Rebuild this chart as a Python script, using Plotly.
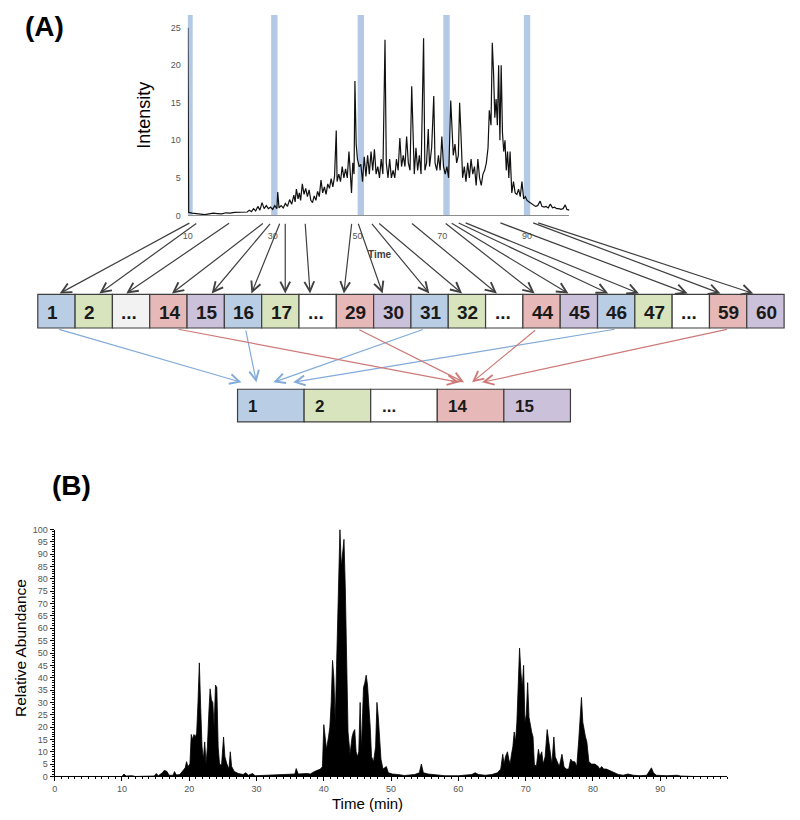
import plotly.graph_objects as go

W, H = 800, 820

# ---------------- Panel A chromatogram data ----------------
a_time = [10.0, 10.2, 11, 12, 13, 14, 15, 16, 17, 18, 19, 20, 21, 22, 23, 24, 24.5, 25, 25.5, 26, 26.5, 27, 27.5,
          28, 28.5, 29, 29.5, 30, 30.5, 31.0, 31.2, 31.5, 32, 32.5, 33, 33.5, 34, 34.5, 35, 35.3, 35.6, 36, 36.3,
          36.6, 37, 37.4, 37.8, 38.2, 38.6, 39, 39.4, 39.8, 40.2, 40.6, 41, 41.4, 41.8, 42.2, 42.6, 43, 43.4, 43.8,
          44.2, 44.6, 45.0, 45.2, 45.6, 46, 46.4, 46.8, 47.2, 47.6, 48.0, 48.3, 48.6, 48.9, 49.2, 49.4, 49.7, 50,
          50.4, 50.8, 51.2, 51.6, 52, 52.4, 52.8, 53.2, 53.6, 54, 54.4, 54.8, 55.2, 55.6, 56.0, 56.5, 56.8, 57.2,
          57.6, 58, 58.4, 58.8, 59.2, 59.6, 60.0, 60.4, 60.8, 61.2, 61.6, 62.0, 62.4, 62.8, 63.1, 63.4, 63.8, 64.2,
          64.6, 65.0, 65.6, 65.9, 66.3, 66.7, 67.0, 67.5, 68.0, 68.3, 68.7, 69.1, 69.5, 69.9, 70.3, 70.7, 71.1,
          71.5, 72.0, 72.3, 72.6, 73.0, 73.4, 73.8, 74.1, 74.4, 74.8, 75.2, 75.6, 76, 76.4, 76.8, 77.2, 77.6, 78,
          78.4, 78.8, 79.2, 79.6, 80.0, 80.4, 80.8, 81.1, 81.5, 81.8, 82.1, 82.4, 82.7, 83.0, 83.3, 83.6, 83.9,
          84.2, 84.5, 84.8, 85.1, 85.4, 85.7, 86.0, 86.4, 86.8, 87.2, 87.6, 88.0, 88.4, 88.8, 89.2, 89.6, 90, 90.5,
          91, 91.5, 92, 92.5, 93.1, 93.5, 94, 94.5, 95, 95.5, 96, 96.5, 97, 97.5, 98, 98.5, 99.0, 99.4, 100]
a_intensity = [25.0, 0.4, 0.3, 0.2, 0.2, 0.1, 0.2, 0.3, 0.25, 0.2, 0.35, 0.3, 0.4, 0.4, 0.5, 0.45, 0.7, 0.5, 0.9,
               0.6, 1.2, 0.7, 1.7, 0.9, 1.3, 0.9, 1.1, 0.8, 1.3, 0.9, 3.1, 1.0, 1.3, 1.0, 1.6, 1.2, 2.1, 1.5, 2.7,
               1.8, 3.5, 2.2, 3.0, 2.0, 4.2, 2.8, 3.6, 2.5, 3.4, 2.0, 1.7, 2.6, 2.0, 3.2, 2.5, 4.7, 3.0, 3.8, 2.8,
               4.2, 3.6, 4.9, 3.8, 5.2, 11.3, 4.5, 5.5, 4.5, 6.5, 5.0, 6.2, 5.0, 8.5, 6.0, 3.0, 7.0, 5.5, 17.9, 9.5,
               7.5, 6.5, 6.8, 4.5, 7.8, 5.2, 8.0, 5.5, 8.5, 6.0, 8.8, 5.5, 6.5, 5.0, 7.5, 5.5, 23.4, 7.0, 5.0, 7.5,
               5.0, 6.0, 5.0, 7.5, 6.0, 10.3, 6.5, 8.0, 6.5, 10.5, 7.0, 6.0, 17.2, 9.0, 5.5, 9.0, 6.0, 8.0, 5.5,
               23.6, 6.0, 7.0, 11.5, 6.5, 9.0, 15.9, 7.0, 6.0, 8.0, 6.0, 10.5, 6.5, 5.5, 6.5, 5.0, 15.3, 12.0, 8.0,
               9.5, 7.0, 8.0, 15.0, 11.0, 5.0, 6.5, 4.5, 7.0, 5.0, 7.5, 5.5, 6.5, 4.0, 7.5, 5.0, 4.0, 5.5, 6.0, 7.0,
               9.0, 14.0, 12.0, 23.0, 19.0, 13.0, 15.5, 12.0, 20.0, 10.0, 20.0, 11.0, 8.5, 10.0, 6.0, 8.5, 5.0, 8.5,
               3.0, 4.5, 3.0, 2.8, 3.5, 2.5, 4.5, 2.2, 2.5, 2.0, 1.8, 1.6, 1.4, 1.2, 1.3, 1.9, 1.2, 1.1, 1.2, 1.0,
               1.5, 1.0, 1.1, 0.9, 0.9, 0.8, 0.9, 1.4, 0.8, 0.7]
a_xticks = [10, 30, 50, 70, 90]
a_yticks = [0, 5, 10, 15, 20, 25]
a_bands = [10.4, 30.4, 50.8, 71.0, 90.0]

# ---------------- Panel B chromatogram data ----------------
b_time = [0, 5, 10.0, 10.3, 10.6, 11.5, 12, 14.8, 15.1, 15.4, 16.0, 16.3, 16.7, 17.0, 17.6, 17.8, 18.1, 18.6, 19.0,
          19.4, 19.6, 19.8, 20.1, 20.3, 20.5, 20.7, 20.9, 21.1, 21.3, 21.5, 21.7, 21.9, 22.1, 22.3, 22.5, 22.7,
          22.9, 23.1, 23.3, 23.5, 23.7, 23.9, 24.1, 24.3, 24.5, 24.8, 25.1, 25.3, 25.6, 25.9, 26.1, 26.3, 26.7,
          27.3, 28.0, 28.4, 28.8, 29.4, 29.8, 31, 33, 34.5, 35.7, 35.9, 36.2, 37.5, 38.0, 38.6, 39.0, 39.5, 39.8,
          40.0, 40.2, 40.4, 40.7, 40.9, 41.1, 41.3, 41.5, 41.7, 41.9, 42.1, 42.3, 42.4, 42.6, 42.8, 43.0, 43.2,
          43.4, 43.6, 43.9, 44.2, 44.4, 44.6, 44.8, 45.0, 45.2, 45.4, 45.6, 45.9, 46.1, 46.3, 46.5, 46.7, 46.9,
          47.1, 47.4, 47.7, 47.9, 48.1, 48.3, 48.5, 48.8, 49.3, 49.6, 50.2, 51, 52, 53.5, 54.2, 54.5, 54.8, 55.5,
          56.5, 58, 60, 62, 62.5, 63.0, 64, 65.0, 65.8, 66.3, 66.6, 66.8, 67.0, 67.3, 67.5, 67.7, 67.9, 68.1,
          68.3, 68.5, 68.7, 68.9, 69.1, 69.3, 69.5, 69.7, 69.9, 70.1, 70.3, 70.5, 70.7, 70.9, 71.1, 71.3, 71.6,
          71.9, 72.1, 72.4, 72.6, 72.9, 73.2, 73.4, 73.6, 73.9, 74.2, 74.4, 74.7, 75.0, 75.4, 75.7, 76.0, 76.4,
          76.7, 77.0, 77.3, 77.6, 77.9, 78.1, 78.3, 78.5, 78.7, 78.9, 79.1, 79.4, 79.8, 80.3, 80.8, 81.0, 81.3,
          81.6, 82.0, 82.4, 82.8, 83.3, 83.8, 84.5, 85.2, 86, 87, 88.0, 88.4, 88.7, 89.0, 89.4, 91, 92.5, 93,
          95, 100]
b_abundance = [0, 0, 0, 1.0, 0.2, 0.3, 0, 0.2, 1.2, 0.3, 1.5, 2.5, 2.0, 0.5, 0.5, 2.0, 0.6, 0.8, 2.0, 3.5, 6.0,
               4.0, 5.0, 17.0, 15.0, 17.0, 16.0, 17.5, 30.0, 46.0, 28.0, 12.0, 7.0, 14.0, 5.0, 12.0, 25.0, 35.5,
               31.0, 30.0, 20.0, 37.0, 36.0, 12.0, 5.0, 4.5, 16.0, 8.0, 5.0, 3.0, 10.0, 4.0, 2.0, 1.2, 0.8, 1.5,
               0.5, 1.2, 0.3, 0.4, 0.5, 0.6, 1.0, 3.2, 1.0, 1.2, 1.0, 2.0, 2.5, 3.0, 4.0, 21.0, 16.0, 11.0, 16.0,
               20.0, 30.0, 47.0, 40.0, 22.0, 45.0, 64.0, 88.0, 100.0, 85.0, 90.0, 96.0, 76.0, 40.0, 18.0, 9.0,
               16.0, 18.0, 19.0, 10.0, 8.0, 10.0, 30.0, 11.0, 36.0, 38.0, 41.0, 37.0, 30.0, 20.0, 8.0, 6.0, 12.0,
               30.0, 24.0, 15.0, 7.0, 3.0, 4.0, 1.5, 1.0, 0.8, 0.4, 0.8, 1.5, 5.0, 1.5, 1.0, 0.8, 0.3, 0.3, 0.8,
               1.5, 0.8, 0.5, 0.8, 1.5, 3.0, 9.0, 5.0, 8.0, 10.0, 7.0, 5.0, 9.0, 12.0, 18.0, 14.0, 22.0, 40.0, 52.0,
               42.0, 36.0, 45.0, 22.0, 25.0, 38.0, 24.0, 20.0, 18.0, 16.0, 5.0, 4.0, 11.0, 8.0, 10.0, 5.0, 8.0,
               19.0, 15.0, 10.0, 5.0, 16.0, 8.0, 6.0, 4.0, 9.0, 4.0, 3.0, 3.0, 7.0, 6.0, 6.0, 4.0, 15.0, 25.0, 32.0,
               22.0, 18.0, 16.0, 14.0, 6.0, 5.0, 5.0, 4.0, 3.0, 4.0, 3.0, 3.0, 2.5, 2.0, 1.5, 0.8, 0.5, 1.0, 0.5,
               0.3, 0.5, 2.0, 3.5, 1.5, 0.5, 0.3, 0.5, 0.2, 0, 0]
b_xticks = [0, 10, 20, 30, 40, 50, 60, 70, 80, 90]
b_yticks = [0, 5, 10, 15, 20, 25, 30, 35, 40, 45, 50, 55, 60, 65, 70, 75, 80, 85, 90, 95, 100]

# ---------------- Diagram (fraction boxes) ----------------
row1_labels = ["1", "2", "...", "14", "15", "16", "17", "...", "29", "30", "31", "32", "...", "44", "45", "46",
               "47", "...", "59", "60"]
row1_groups = ["b", "g", "w", "r", "p", "b", "g", "w", "r", "p", "b", "g", "w", "r", "p", "b", "g", "w", "r", "p"]
row2_labels = ["1", "2", "...", "14", "15"]
row2_groups = ["b", "g", "w", "r", "p"]
group_colors = {"b": "#b9cde5", "g": "#d7e4bd", "w": "#ffffff", "r": "#e6b9b8", "p": "#ccc1da"}

# arrows from chromatogram time axis to fraction boxes (start x on axis, end x on boxes), pixel space
arrow1_start = [187, 194, 227, 261, 268, 277, 282, 302, 349, 355, 368, 375, 408, 442, 448, 455, 462, 497, 530, 535]
arrow1_end = [55, 95, 122, 168, 208, 248, 282, 307, 341, 380, 427, 460, 495, 533, 567, 607, 638, 687, 720, 753]
# pooled arrows: start x under source box, end x above pooled box
pool_src_x = [53, 242, 422, 615, 173, 355, 535, 728]
pool_end_x = [238, 253, 270, 290, 457, 462, 470, 480]
pool_color = ["b", "b", "b", "b", "r", "r", "r", "r"]
arrow_colors = {"b": "#82abd9", "r": "#cd7a78"}

# ---------------- layout geometry (pixels) ----------------
A_L, A_R, A_T, A_B = 184, 568, 10, 213
B_L, B_R, B_T, B_B = 50, 727, 531, 781


def dom_x(l, r):
    return [l / W, r / W]


def dom_y(t, b):
    return [1 - b / H, 1 - t / H]


fig = go.Figure()

fig.add_trace(go.Scatter(x=a_time, y=a_intensity, mode="lines", line=dict(color="#111111", width=1.2),
                         xaxis="x", yaxis="y", showlegend=False, hoverinfo="skip"))
fig.add_trace(go.Scatter(x=b_time, y=b_abundance, mode="lines", line=dict(color="#000000", width=0.8),
                         fill="tozeroy", fillcolor="#000000", xaxis="x2", yaxis="y2", showlegend=False,
                         hoverinfo="skip"))

shapes = []
for t in a_bands:
    shapes.append(dict(type="rect", xref="x", yref="y", x0=t - 0.75, x1=t + 0.75, y0=0, y1=26.7,
                       fillcolor="#b3c9e6", line=dict(width=0), layer="below"))

annotations = []
# row 1 boxes
bw1 = (784 - 33) / len(row1_labels)
for i, (lab, g) in enumerate(zip(row1_labels, row1_groups)):
    x0 = 33 + i * bw1
    shapes.append(dict(type="rect", xref="x3", yref="y3", x0=x0, x1=x0 + bw1, y0=293, y1=327,
                       fillcolor=group_colors[g] if g != "w" else ("#f2f2f2" if i == 2 else "#ffffff"),
                       line=dict(color="#3f3f3f", width=1.2)))
    annotations.append(dict(xref="x3", yref="y3", x=x0 + 7, y=311, text="<b>%s</b>" % lab, showarrow=False,
                            xanchor="left", yanchor="middle", font=dict(size=19, color="#1a1a1a",
                                                                        family="Liberation Sans, Arial")))
# row 2 boxes
bw2 = (569 - 234) / len(row2_labels)
for i, (lab, g) in enumerate(zip(row2_labels, row2_groups)):
    x0 = 234 + i * bw2
    shapes.append(dict(type="rect", xref="x3", yref="y3", x0=x0, x1=x0 + bw2, y0=389, y1=422,
                       fillcolor=group_colors[g], line=dict(color="#3f3f3f", width=1.2)))
    annotations.append(dict(xref="x3", yref="y3", x=x0 + 9, y=406, text="<b>%s</b>" % lab, showarrow=False,
                            xanchor="left", yanchor="middle", font=dict(size=17, color="#1a1a1a",
                                                                        family="Liberation Sans, Arial")))

# grey arrows
for sx, ex in zip(arrow1_start, arrow1_end):
    annotations.append(dict(xref="x3", yref="y3", axref="x3", ayref="y3", x=ex, y=292, ax=sx, ay=220,
                            text="", showarrow=True, arrowhead=5, arrowsize=1.6, arrowwidth=1.2,
                            arrowcolor="#404040", standoff=0, startstandoff=0))
# pooled arrows
for sx, ex, c in zip(pool_src_x, pool_end_x, pool_color):
    annotations.append(dict(xref="x3", yref="y3", axref="x3", ayref="y3", x=ex, y=382, ax=sx, ay=328,
                            text="", showarrow=True, arrowhead=5, arrowsize=1.6, arrowwidth=1.2,
                            arrowcolor=arrow_colors[c], standoff=0, startstandoff=0))

# text labels
annotations += [
    dict(xref="x3", yref="y3", x=40, y=22, text="<b>(A)</b>", showarrow=False,
         font=dict(size=28, color="#000", family="Liberation Sans, Arial")),
    dict(xref="x3", yref="y3", x=67, y=486, text="<b>(B)</b>", showarrow=False,
         font=dict(size=28, color="#000", family="Liberation Sans, Arial")),
    dict(xref="x3", yref="y3", x=139, y=112, text="Intensity", showarrow=False, textangle=-90,
         font=dict(size=18, color="#000", family="Liberation Sans, Arial")),
    dict(xref="x3", yref="y3", x=377, y=253, text="<b>Time</b>", showarrow=False,
         font=dict(size=10, color="#404040", family="Liberation Sans, Arial")),
    dict(xref="x3", yref="y3", x=15, y=651, text="Relative Abundance", showarrow=False, textangle=-90,
         font=dict(size=15.5, color="#000", family="Liberation Sans, Arial")),
    dict(xref="x3", yref="y3", x=365, y=808, text="Time (min)", showarrow=False,
         font=dict(size=15, color="#000", family="Liberation Sans, Arial")),
]

tickfont = dict(size=9, color="#555555", family="Liberation Sans, Arial")

fig.update_layout(
    width=W, height=H, margin=dict(l=0, r=0, t=0, b=0),
    paper_bgcolor="white", plot_bgcolor="rgba(0,0,0,0)",
    xaxis=dict(domain=dom_x(A_L, A_R), range=[10, 100], anchor="y", tickvals=a_xticks,
               showline=True, linecolor="#8c8c8c", linewidth=1.3, showgrid=False, zeroline=False,
               ticks="", ticklabelstandoff=12, tickfont=tickfont),
    yaxis=dict(domain=dom_y(A_T, A_B), range=[0, 26.7], anchor="x", tickvals=a_yticks,
               showline=False, showgrid=False, zeroline=False, ticks="", ticklabelstandoff=6,
               tickfont=tickfont),
    xaxis2=dict(domain=dom_x(B_L, B_R), range=[0, 100], anchor="y2", tickvals=b_xticks,
                showline=True, linecolor="#000", linewidth=1, showgrid=False, zeroline=False,
                ticks="outside", ticklen=4, tickcolor="#000", tickfont=tickfont, ticklabelstandoff=0,
                minor=dict(dtick=1, ticks="outside", ticklen=2, tickcolor="#000")),
    yaxis2=dict(domain=dom_y(B_T, B_B), range=[0, 100], anchor="x2", tickvals=b_yticks,
                showline=True, linecolor="#000", linewidth=1, showgrid=False, zeroline=False,
                ticks="outside", ticklen=4, tickcolor="#000", tickfont=tickfont,
                minor=dict(dtick=1, ticks="outside", ticklen=2, tickcolor="#000")),
    xaxis3=dict(domain=[0, 1], range=[0, W], anchor="y3", visible=False, fixedrange=True),
    yaxis3=dict(domain=[0, 1], range=[H, 0], anchor="x3", visible=False, fixedrange=True),
    shapes=shapes, annotations=annotations,
)

fig.write_html("out.html", config={"displayModeBar": False},
               post_script="document.body.style.margin='0';document.body.style.overflow='hidden';")
